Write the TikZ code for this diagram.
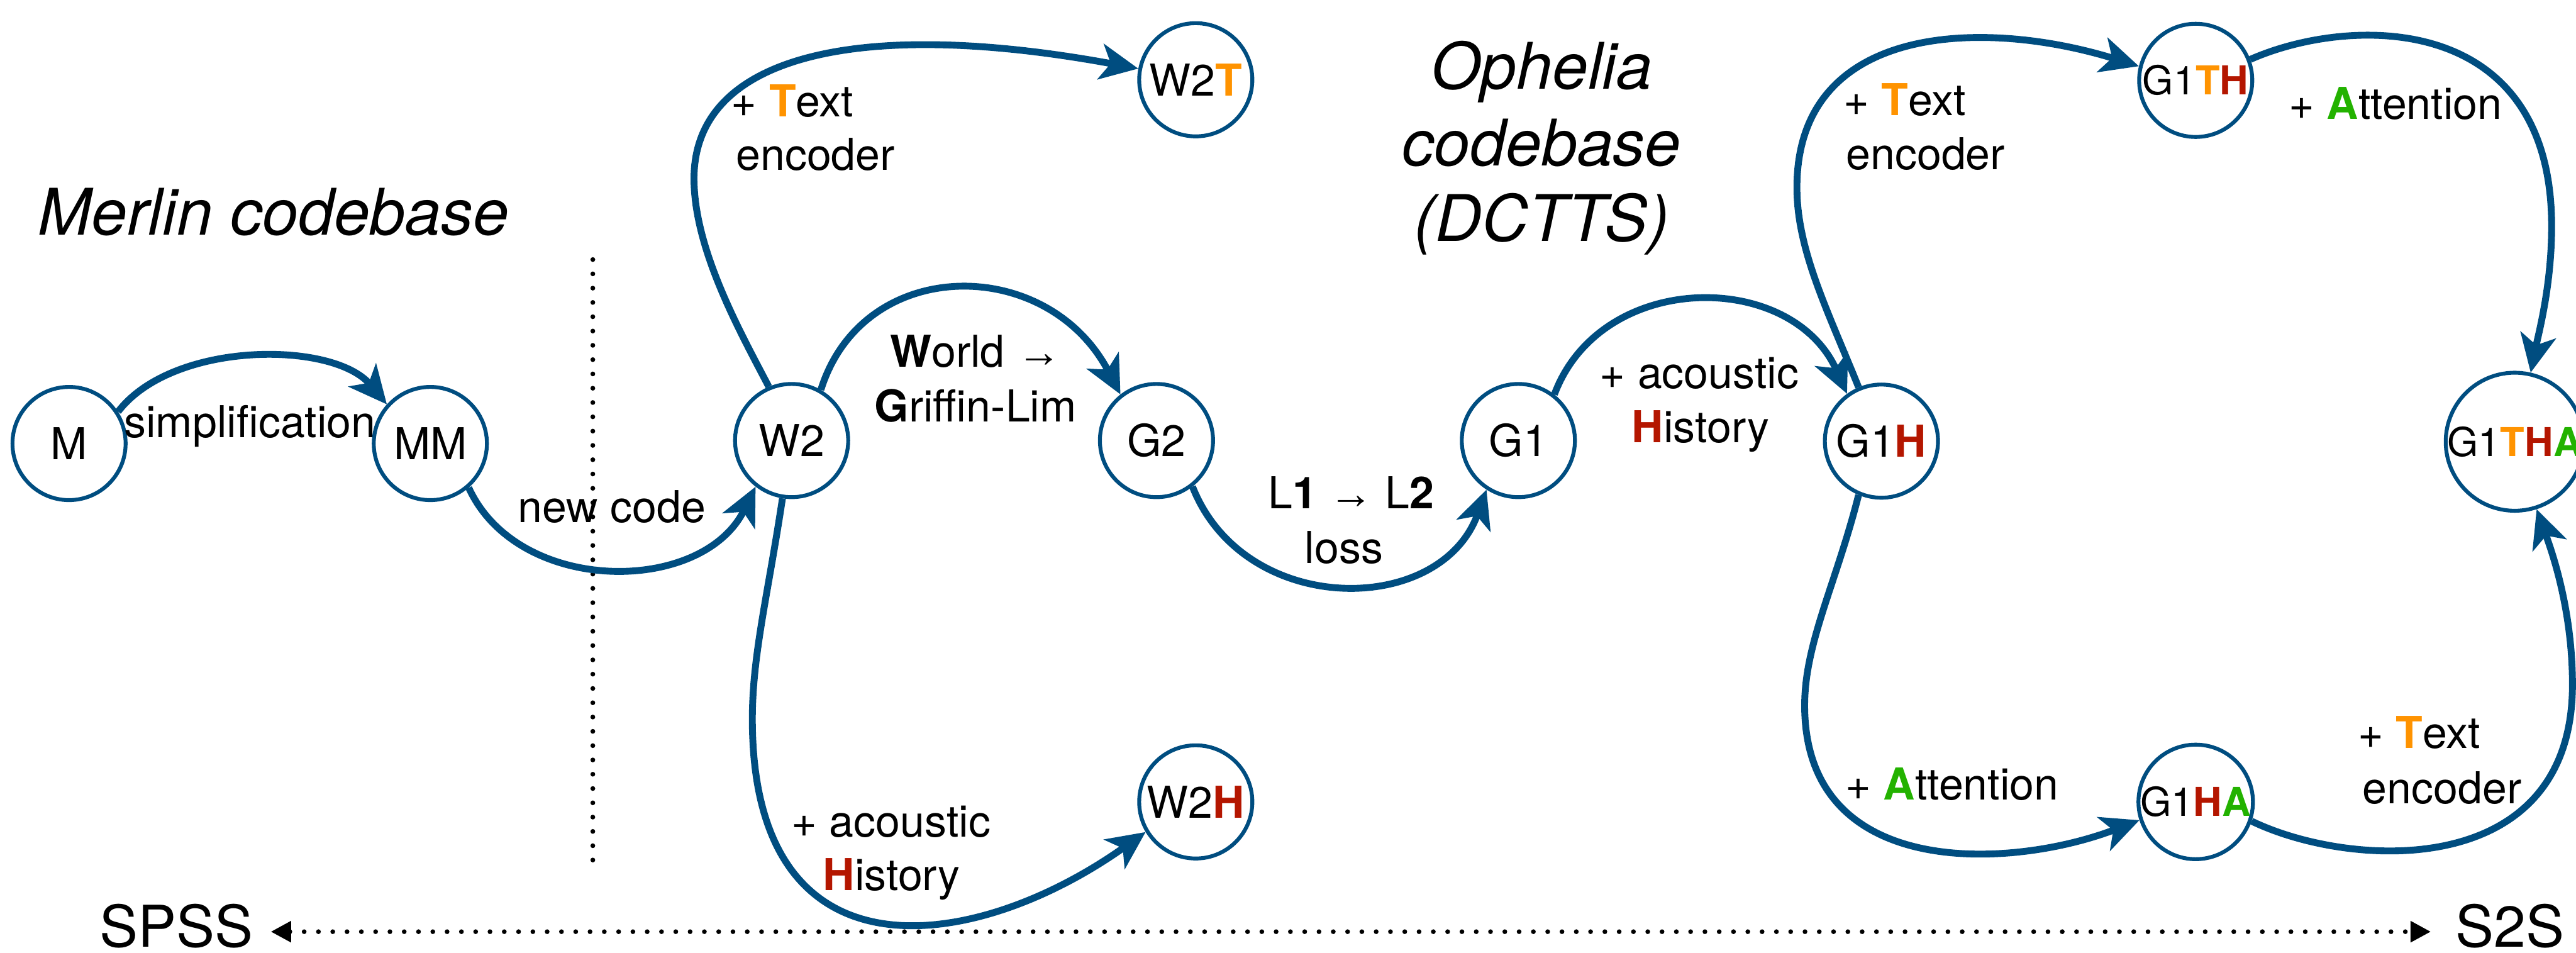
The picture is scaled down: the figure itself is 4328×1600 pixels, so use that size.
\documentclass[tikz,border=0pt]{standalone}
\usepackage{fontspec}
\setmainfont{TeX Gyre Heros}
\newfontfamily\arrowfont{Liberation Sans}
\usetikzlibrary{arrows.meta}

\definecolor{edgeblue}{RGB}{0,77,128}
\definecolor{torange}{RGB}{255,147,0}
\definecolor{hred}{RGB}{180,22,0}
\definecolor{agreen}{RGB}{35,178,0}

% coloured initials of the added components
\newcommand{\kT}{{\bfseries\color{torange}T}}
\newcommand{\kH}{{\bfseries\color{hred}H}}
\newcommand{\kA}{{\bfseries\color{agreen}A}}
\newcommand{\rarr}{{\arrowfont →}}

\tikzset{
  state/.style={circle, draw=edgeblue, line width=0.065cm, minimum size=1.90cm,
    inner sep=0pt, font=\fontsize{21}{25}\selectfont},
  smallstate/.style={state, font=\fontsize{19}{23}\selectfont},
  bigstate/.style={smallstate, minimum size=2.28cm},
  conn/.style={draw=edgeblue, line width=0.115cm,
    -{Stealth[length=0.64cm, width=0.6cm, inset=0.17cm]}},
  lbl/.style={inner sep=0pt, font=\fontsize{21}{25.9}\selectfont},
  title/.style={inner sep=0pt, font=\fontsize{30.7}{36}\selectfont\itshape},
  axislbl/.style={inner sep=0pt, font=\fontsize{27.5}{33}\selectfont},
  dots/.style={line width=0.08cm, line cap=round, dash pattern=on 0pt off 0.24cm}
}

\begin{document}
\begin{tikzpicture}[x=0.01cm, y=-0.01cm]
\useasboundingbox (0,0) rectangle (4328,1600);
\clip (0,0) rectangle (4328,1600);

% model states
\node[state] (M)    at (116,745)  {M};
\node[state] (MM)   at (723,745)  {MM};
\node[state] (W2)   at (1330,740) {W2};
\node[state] (G2)   at (1943,740) {G2};
\node[state] (G1)   at (2551,740) {G1};
\node[state] (G1H)  at (3161,741) {G1\kH};
\node[state] (W2T)  at (2009,134) {W2\kT};
\node[state] (W2H)  at (2009,1347) {W2\kH};
\node[smallstate] (G1TH) at (3689,135) {G1\kT\kH};
\node[smallstate] (G1HA) at (3689,1347) {G1\kH\kA};
\node[bigstate] (G1THA) at (4225,742) {G1\kT\kH\kA};

% section titles
\node[title, anchor=base west] (merlin) at (63,395) {Merlin codebase};
\node[title, anchor=base] (oph1) at (2590,150) {Ophelia};
\node[title, anchor=base] (oph2) at (2590,278) {codebase};
\node[title, anchor=base] (oph3) at (2590,405) {(DCTTS)};

% codebase separator
\coordinate (sepTop) at (996,436);
\coordinate (sepBot) at (996,1452);
\draw[dots] (sepTop) -- (sepBot);

% SPSS <-> S2S axis
\node[axislbl, anchor=base west] (spss) at (167,1591) {SPSS};
\node[axislbl, anchor=base west] (s2s) at (4125,1591) {S2S};
\coordinate (axL) at (455,1565);
\coordinate (axR) at (4084,1565);
\draw[dots, {Triangle[length=0.34cm, width=0.34cm]}-{Triangle[length=0.34cm, width=0.34cm]}] (axL) -- (axR);

% transitions
\draw[conn] (M.33) .. controls (290,572) and (560,572) .. (MM.138);
\node[lbl, anchor=base] (lsimp) at (420,735) {simplification};

\draw[conn] (MM.-49) .. controls (870,1000) and (1180,1000) .. (W2.232);
\node[lbl, anchor=base] (lnew) at (1028,878) {new code};

\draw[conn] (W2.113) .. controls (1245,560) and (1166,420) .. (1166,300)
  .. controls (1166,90) and (1450,30) .. (W2T.169);
\node[lbl, anchor=base west] (ltxa1) at (1228,196) {+ \kT ext};
\node[lbl, anchor=base west] (ltxa2) at (1236,286) {encoder};

\draw[conn] (W2.60) .. controls (1450,428) and (1760,428) .. (G2.128);
\node[lbl, anchor=base] (lwg1) at (1639,617) {{\bfseries W}orld \rarr};
\node[lbl, anchor=base] (lwg2) at (1639,708) {{\bfseries G}riffin-Lim};

\draw[conn] (G2.-52) .. controls (2090,1037) and (2420,1037) .. (G1.237);
\node[lbl, anchor=base] (lloss1) at (2270,854) {L{\bfseries 1} \rarr\ L{\bfseries 2}};
\node[lbl, anchor=base] (lloss2) at (2258,946) {loss};

\draw[conn] (G1.52) .. controls (2690,453) and (3010,453) .. (G1H.126);
\node[lbl, anchor=base] (lhisa1) at (2855,652) {+ acoustic};
\node[lbl, anchor=base] (lhisa2) at (2857,743) {\kH istory};

\draw[conn] (W2.261) .. controls (1290,1000) and (1264,1100) .. (1264,1208)
  .. controls (1264,1660) and (1640,1600) .. (W2H.211);
\node[lbl, anchor=base] (lhisb1) at (1497,1406) {+ acoustic};
\node[lbl, anchor=base] (lhisb2) at (1498,1496) {\kH istory};

\draw[conn] (G1H.113) .. controls (3070,520) and (3019,420) .. (3019,315)
  .. controls (3019,40) and (3330,30) .. (G1TH.166);
\node[lbl, anchor=base west] (ltxb1) at (3097,194) {+ \kT ext};
\node[lbl, anchor=base west] (ltxb2) at (3101,285) {encoder};

\draw[conn] (G1TH.21) .. controls (3950,25) and (4287,20) .. (4287,380)
  .. controls (4287,480) and (4265,560) .. (G1THA.77);
\node[lbl, anchor=base west] (latta) at (3845,200) {+ \kA ttention};

\draw[conn] (G1H.247) .. controls (3085,980) and (3032,1080) .. (3032,1185)
  .. controls (3032,1480) and (3380,1460) .. (G1HA.198);
\node[lbl, anchor=base west] (lattb) at (3100,1343) {+ \kA ttention};

\draw[conn] (G1HA.-19) .. controls (3950,1460) and (4322,1480) .. (4322,1150)
  .. controls (4322,1020) and (4285,920) .. (G1THA.-72);
\node[lbl, anchor=base west] (ltxc1) at (3961,1257) {+ \kT ext};
\node[lbl, anchor=base west] (ltxc2) at (3969,1350) {encoder};
\end{tikzpicture}
\end{document}
